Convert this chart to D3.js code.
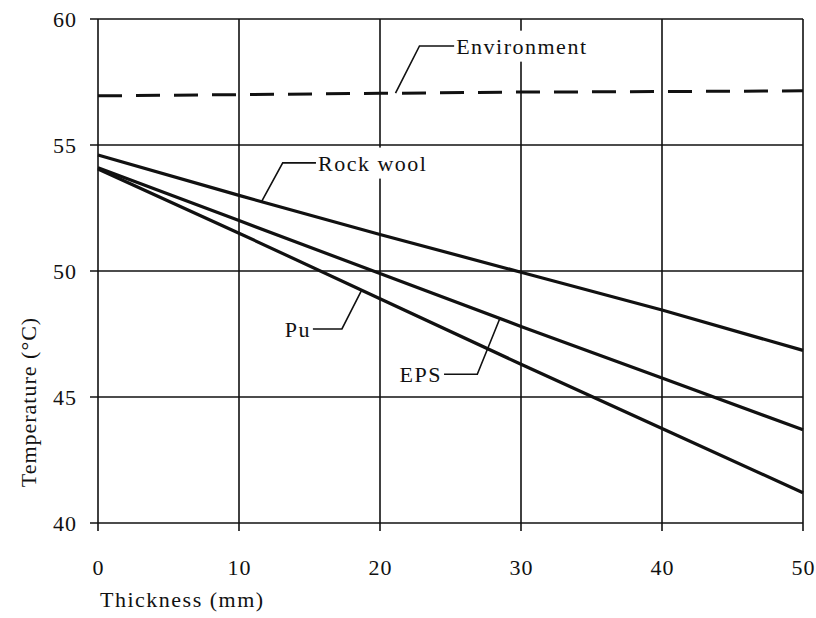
<!DOCTYPE html>
<html>
<head>
<meta charset="utf-8">
<script src="https://cdn.jsdelivr.net/npm/d3@7"></script>
<style>
  body { margin: 0; background: #fff; }
  svg text { font-family: "Liberation Serif", "Times New Roman", serif; fill: #111; font-size: 22px; letter-spacing: 1.5px; }
</style>
</head>
<body>
<script>
var thickness = [0, 10, 20, 30, 40, 50];
var environment = [56.95, 57.0, 57.05, 57.1, 57.12, 57.15];
var rockWool = [54.6, 53.0, 51.45, 49.95, 48.45, 46.85];
var eps = [54.1, 52.0, 49.9, 47.8, 45.75, 43.7];
var pu = [54.05, 51.5, 48.9, 46.3, 43.75, 41.2];

var xTicks = [0, 10, 20, 30, 40, 50];
var yTicks = [40, 45, 50, 55, 60];

// label callouts: series point at t, elbow, then text
var callouts = [
  { name: "Environment", values: environment, t: 21.1, elbowX: 22.8, elbowY: 58.93, textX: 25.4, anchor: "start" },
  { name: "Rock wool", values: rockWool, t: 11.6, elbowX: 13.1, elbowY: 54.29, textX: 15.6, anchor: "start" },
  { name: "Pu", values: pu, t: 18.7, elbowX: 17.3, elbowY: 47.7, textX: 15.1, anchor: "end" },
  { name: "EPS", values: eps, t: 28.5, elbowX: 26.9, elbowY: 45.9, textX: 24.4, anchor: "end" }
];

var margin = { top: 19, right: 13, bottom: 95, left: 98 },
  width = 816 - margin.left - margin.right,
  height = 618 - margin.top - margin.bottom;

var xScale = d3.scaleLinear().domain([0, 50]).range([0, width]);
var yScale = d3.scaleLinear().domain([40, 60]).range([height, 0]);

var svg = d3.select("body").append("svg")
  .attr("width", 816)
  .attr("height", 618)
  .append("g")
  .attr("transform", "translate(" + margin.left + "," + margin.top + ")");

// grid
svg.selectAll(".hgrid")
  .data(yTicks)
  .enter().append("line")
  .attr("x1", -8).attr("x2", width)
  .attr("y1", d => yScale(d)).attr("y2", d => yScale(d))
  .style("stroke", "#111").style("stroke-width", 1.6);

svg.selectAll(".vgrid")
  .data(xTicks)
  .enter().append("line")
  .attr("x1", d => xScale(d)).attr("x2", d => xScale(d))
  .attr("y1", 0).attr("y2", height + 8)
  .style("stroke", "#111").style("stroke-width", 1.6);

// axes (labels only)
var yAxis = svg.append("g")
  .call(d3.axisLeft(yScale).tickValues(yTicks).tickSize(0).tickPadding(21));
var xAxis = svg.append("g")
  .attr("transform", "translate(0," + height + ")")
  .call(d3.axisBottom(xScale).tickValues(xTicks).tickSize(0).tickPadding(36));
[yAxis, xAxis].forEach(function (a) {
  a.select(".domain").remove();
  a.selectAll("text")
    .style("font-size", "22px")
    .style("font-family", "Liberation Serif, serif")
    .style("letter-spacing", "1px");
});

svg.append("text")
  .attr("x", xScale(0) + 2)
  .attr("y", height + 84)
  .text("Thickness (mm)");

svg.append("text")
  .attr("transform", "translate(-62," + yScale(44.8) + ") rotate(-90)")
  .attr("text-anchor", "middle")
  .style("letter-spacing", "1px")
  .text("Temperature (°C)");

// series
var line = d3.line()
  .x(function (d, i) { return xScale(thickness[i]); })
  .y(function (d) { return yScale(d); });

svg.append("path")
  .datum(environment)
  .attr("d", line)
  .style("fill", "none").style("stroke", "#111")
  .style("stroke-width", 3).style("stroke-dasharray", "24,14");

[rockWool, eps, pu].forEach(function (s) {
  svg.append("path")
    .datum(s)
    .attr("d", line)
    .style("fill", "none").style("stroke", "#111")
    .style("stroke-width", 3.2);
});

// callouts
var interp = function (values, t) {
  var i = Math.min(Math.floor(t / 10), thickness.length - 2);
  var f = (t - thickness[i]) / 10;
  return values[i] + f * (values[i + 1] - values[i]);
};

callouts.forEach(function (c) {
  var g = svg.append("g");
  var text = g.append("text")
    .attr("x", xScale(c.textX))
    .attr("y", yScale(c.elbowY))
    .attr("dy", "0.35em")
    .attr("text-anchor", c.anchor)
    .text(c.name);
  var bb = text.node().getBBox();
  g.insert("rect", "text")
    .attr("x", bb.x - 1).attr("y", bb.y - 3)
    .attr("width", bb.width + 2).attr("height", bb.height + 6)
    .style("fill", "#fff");
  var gap = c.anchor === "start" ? -2 : 2;
  g.append("path")
    .attr("d", "M" + xScale(c.t) + "," + yScale(interp(c.values, c.t)) +
      "L" + xScale(c.elbowX) + "," + yScale(c.elbowY) +
      "L" + (xScale(c.textX) + gap) + "," + yScale(c.elbowY))
    .style("fill", "none").style("stroke", "#111").style("stroke-width", 1.6);
});
</script>
</body>
</html>
